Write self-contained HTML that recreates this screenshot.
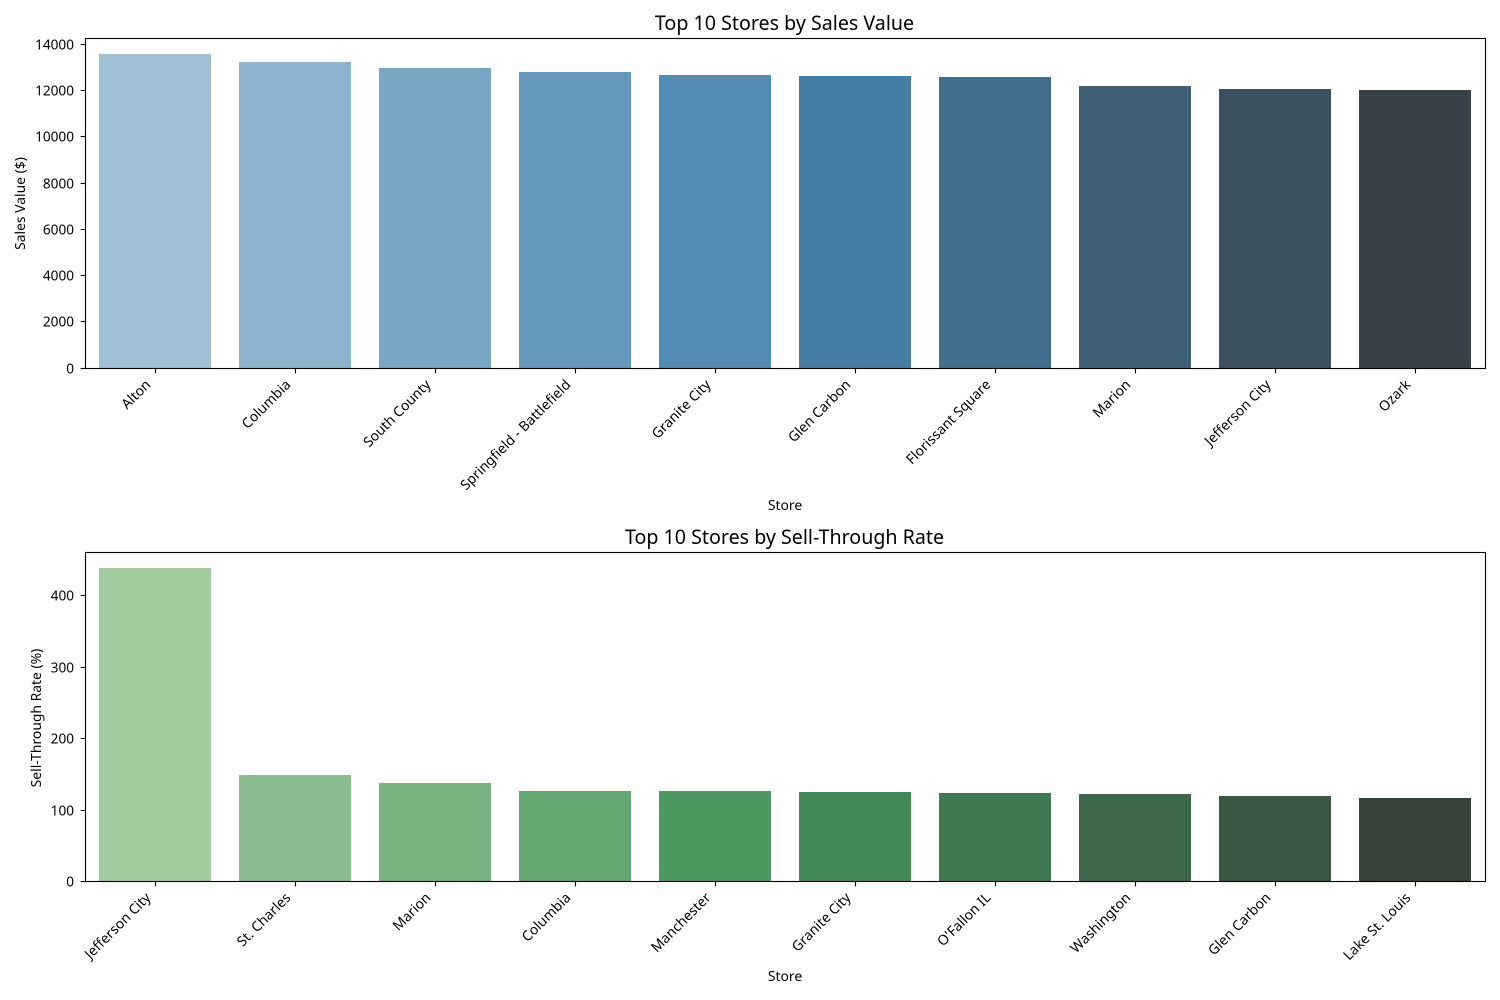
<!DOCTYPE html>
<html>
<head>
<meta charset="utf-8">
<title>Top 10 Stores</title>
<style>
html,body{margin:0;padding:0;background:#fff;width:1500px;height:1000px;overflow:hidden}
svg{display:block}
text{font-family:"Noto Sans","Open Sans","Noto Sans CJK JP","DejaVu Sans",sans-serif;fill:#000}
.tick{font-size:13.6px}
.axis{font-size:13.89px}
.title{font-size:19.65px}
</style>
</head>
<body>
<svg id="chart" xmlns="http://www.w3.org/2000/svg" width="1500" height="1000" viewBox="0 0 1500 1000"></svg>
<script>
const salesStores = ["Alton","Columbia","South County","Springfield - Battlefield","Granite City","Glen Carbon","Florissant Square","Marion","Jefferson City","Ozark"];
const salesValues = [13579,13221,12962,12789,12659,12616,12573,12184,12054,12011];
const salesTicks = [0,2000,4000,6000,8000,10000,12000,14000];
const salesColors = ["#9fc1d6","#8cb3cd","#78a6c5","#6598bc","#528bb3","#467da4","#426e8d","#3f5f77","#3b5160","#374249"];

const rateStores = ["Jefferson City","St. Charles","Marion","Columbia","Manchester","Granite City","O'Fallon IL","Washington","Glen Carbon","Lake St. Louis"];
const rateValues = [438.4,148.25,137.06,125.87,125.87,124.48,123.08,121.68,118.88,116.08];
const rateTicks = [0,100,200,300,400];
const rateColors = ["#a1cca0","#8bbd92","#78b281","#63a672","#4e9962","#438a57","#3f7950","#3c6749","#395641","#36443a"];

const NS = "http://www.w3.org/2000/svg";
const root = document.getElementById("chart");

function make(parent, tag, attrs, text) {
  const el = document.createElementNS(NS, tag);
  for (const k in attrs) el.setAttribute(k, attrs[k]);
  if (text !== undefined) el.textContent = text;
  parent.appendChild(el);
  return el;
}

function drawPanel(cfg) {
  const left = 85.5, right = 1485.5;
  const group = make(root, "g", {});
  
  

  const maxValue = Math.max.apply(null, cfg.values) * 1.05;
  const yScale = function (v) { return cfg.zero - (v / maxValue) * (cfg.zero - (cfg.top - 0.5)); };
  const xScale = function (i) { return left + (right - left) * (i + 0.5) / cfg.stores.length; };
  const step = (right - left) / cfg.stores.length;
  const barWidth = step * 0.8;

  cfg.values.forEach(function (v, i) {
    const y = Math.round(yScale(v));
    const bar = make(group, "rect", {
      x: Math.round(xScale(i) - barWidth / 2 - 0.5),
      y: y,
      width: Math.round(barWidth),
      height: Math.max(0, cfg.zero - y),
      fill: cfg.colors[i]
    });
    
    
  });

  cfg.ticks.forEach(function (t) {
    const y = Math.round(yScale(t) - cfg.tickBias) + 0.5;
    const tickMark = make(group, "line", { x1: left - 4.9, x2: left, y1: y, y2: y, stroke: "#000", "stroke-width": 1.11 });
    
    
    const tickLabel = make(group, "text", { class: "tick", x: left - 11.5, y: y + 5, "text-anchor": "end" }, String(t));
    
    
  });

  cfg.stores.forEach(function (s, i) {
    const x = Math.round(xScale(i) - 0.5) + 0.5;
    const tickMark = make(group, "line", { x1: x, x2: x, y1: cfg.bottom, y2: cfg.bottom + 4.9, stroke: "#000", "stroke-width": 1.11 });
    
    
    const lx = x - 4, ly = cfg.bottom + 17;
    const tickLabel = make(group, "text", { class: "axis", x: lx, y: ly, "text-anchor": "end", transform: "rotate(-45 " + lx + " " + ly + ")" }, s);
    
    
  });

  const frame = make(group, "rect", { x: left, y: cfg.top, width: right - left, height: cfg.bottom - cfg.top, fill: "none", stroke: "#000", "stroke-width": 1.11 });
  
  

  const title = make(group, "text", { class: "title", x: 784.5, y: cfg.top - 8.5, "text-anchor": "middle" }, cfg.title);
  
  

  const xTitle = make(group, "text", { class: "axis", x: 785, y: cfg.xTitleY, "text-anchor": "middle" }, "Store");
  
  

  const cy = (cfg.top + cfg.bottom) / 2 + cfg.yTitleShift;
  const yTitle = make(group, "text", { class: "axis", x: cfg.yTitleX, y: cy, "text-anchor": "middle", transform: "rotate(-90 " + cfg.yTitleX + " " + cy + ")" }, cfg.yTitle);
  
  
}

drawPanel({
  name: "sales-value-chart", title: "Top 10 Stores by Sales Value", yTitle: "Sales Value ($)",
  stores: salesStores, values: salesValues, ticks: salesTicks, colors: salesColors,
  top: 38.5, bottom: 368.5, zero: 368, xTitleY: 510, yTitleX: 25, yTitleShift: 0, tickBias: 0.25
});
drawPanel({
  name: "sell-through-chart", title: "Top 10 Stores by Sell-Through Rate", yTitle: "Sell-Through Rate (%)",
  stores: rateStores, values: rateValues, ticks: rateTicks, colors: rateColors,
  top: 552.5, bottom: 881.5, zero: 881, xTitleY: 981, yTitleX: 41, yTitleShift: 1, tickBias: 0
});
</script>
</body>
</html>
